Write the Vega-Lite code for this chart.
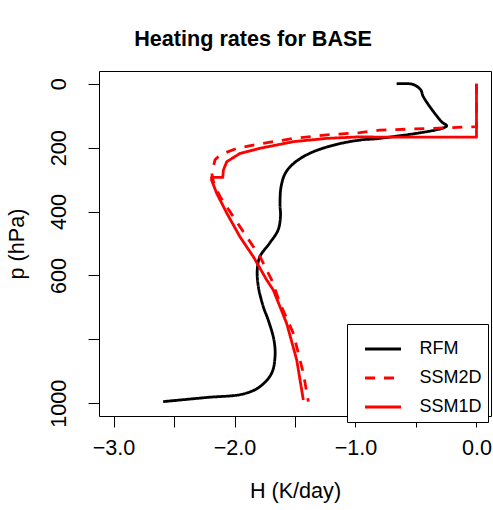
{
  "$schema": "https://vega.github.io/schema/vega-lite/v6.json",
  "width": 392,
  "height": 345,
  "autosize": {"type": "none"},
  "padding": {"left": 99, "top": 71, "right": 2, "bottom": 94},
  "background": "white",
  "title": {
    "text": "Heating rates for BASE",
    "font": "Liberation Sans",
    "fontSize": 21.6,
    "fontWeight": "bold",
    "color": "black",
    "anchor": "middle",
    "dx": -42,
    "offset": 20
  },
  "config": {
    "view": {"stroke": "black", "strokeWidth": 1},
    "axis": {
      "labelFont": "Liberation Sans",
      "titleFont": "Liberation Sans",
      "labelFontSize": 21.6,
      "titleFontSize": 21.6,
      "titleFontWeight": "normal",
      "labelColor": "black",
      "titleColor": "black",
      "tickColor": "black",
      "tickSize": 11,
      "domain": false,
      "grid": false
    },
    "legend": {
      "labelFont": "Liberation Sans",
      "labelFontSize": 18,
      "labelColor": "black"
    }
  },
  "data": {
    "values": [
      {"series": "RFM", "i": 1, "H": -0.66, "p": 0},
      {"series": "RFM", "i": 2, "H": -0.525, "p": 2},
      {"series": "RFM", "i": 3, "H": -0.461, "p": 19},
      {"series": "RFM", "i": 4, "H": -0.44, "p": 40},
      {"series": "RFM", "i": 5, "H": -0.288, "p": 119},
      {"series": "RFM", "i": 6, "H": -0.246, "p": 132},
      {"series": "RFM", "i": 7, "H": -0.8, "p": 171},
      {"series": "RFM", "i": 8, "H": -0.96, "p": 176},
      {"series": "RFM", "i": 9, "H": -1.18, "p": 192},
      {"series": "RFM", "i": 10, "H": -1.38, "p": 218},
      {"series": "RFM", "i": 11, "H": -1.51, "p": 249},
      {"series": "RFM", "i": 12, "H": -1.58, "p": 280},
      {"series": "RFM", "i": 13, "H": -1.615, "p": 322},
      {"series": "RFM", "i": 14, "H": -1.624, "p": 374},
      {"series": "RFM", "i": 15, "H": -1.62, "p": 416},
      {"series": "RFM", "i": 16, "H": -1.64, "p": 458},
      {"series": "RFM", "i": 17, "H": -1.71, "p": 499},
      {"series": "RFM", "i": 18, "H": -1.79, "p": 541},
      {"series": "RFM", "i": 19, "H": -1.812, "p": 583},
      {"series": "RFM", "i": 20, "H": -1.803, "p": 635},
      {"series": "RFM", "i": 21, "H": -1.762, "p": 698},
      {"series": "RFM", "i": 22, "H": -1.721, "p": 740},
      {"series": "RFM", "i": 23, "H": -1.674, "p": 802},
      {"series": "RFM", "i": 24, "H": -1.665, "p": 854},
      {"series": "RFM", "i": 25, "H": -1.693, "p": 906},
      {"series": "RFM", "i": 26, "H": -1.789, "p": 948},
      {"series": "RFM", "i": 27, "H": -1.927, "p": 971},
      {"series": "RFM", "i": 28, "H": -2.23, "p": 982},
      {"series": "RFM", "i": 29, "H": -2.59, "p": 995},

      {"series": "SSM2D", "i": 1, "H": 0, "p": 0},
      {"series": "SSM2D", "i": 2, "H": 0, "p": 134},
      {"series": "SSM2D", "i": 3, "H": -0.25, "p": 138},
      {"series": "SSM2D", "i": 4, "H": -0.8, "p": 145},
      {"series": "SSM2D", "i": 5, "H": -0.963, "p": 153},
      {"series": "SSM2D", "i": 6, "H": -1.238, "p": 160},
      {"series": "SSM2D", "i": 7, "H": -1.514, "p": 171},
      {"series": "SSM2D", "i": 8, "H": -1.789, "p": 188},
      {"series": "SSM2D", "i": 9, "H": -1.982, "p": 202},
      {"series": "SSM2D", "i": 10, "H": -2.12, "p": 223},
      {"series": "SSM2D", "i": 11, "H": -2.161, "p": 238},
      {"series": "SSM2D", "i": 12, "H": -2.188, "p": 280},
      {"series": "SSM2D", "i": 13, "H": -2.175, "p": 306},
      {"series": "SSM2D", "i": 14, "H": -2.12, "p": 353},
      {"series": "SSM2D", "i": 15, "H": -2.01, "p": 416},
      {"series": "SSM2D", "i": 16, "H": -1.899, "p": 479},
      {"series": "SSM2D", "i": 17, "H": -1.789, "p": 541},
      {"series": "SSM2D", "i": 18, "H": -1.693, "p": 614},
      {"series": "SSM2D", "i": 19, "H": -1.624, "p": 687},
      {"series": "SSM2D", "i": 20, "H": -1.514, "p": 781},
      {"series": "SSM2D", "i": 21, "H": -1.431, "p": 906},
      {"series": "SSM2D", "i": 22, "H": -1.39, "p": 995},

      {"series": "SSM1D", "i": 1, "H": 0, "p": 0},
      {"series": "SSM1D", "i": 2, "H": 0, "p": 167},
      {"series": "SSM1D", "i": 3, "H": -0.8, "p": 167},
      {"series": "SSM1D", "i": 4, "H": -0.96, "p": 166},
      {"series": "SSM1D", "i": 5, "H": -1.24, "p": 171},
      {"series": "SSM1D", "i": 6, "H": -1.51, "p": 181},
      {"series": "SSM1D", "i": 7, "H": -1.79, "p": 202},
      {"series": "SSM1D", "i": 8, "H": -1.955, "p": 218},
      {"series": "SSM1D", "i": 9, "H": -2.064, "p": 244},
      {"series": "SSM1D", "i": 10, "H": -2.092, "p": 270},
      {"series": "SSM1D", "i": 11, "H": -2.097, "p": 293},
      {"series": "SSM1D", "i": 12, "H": -2.19, "p": 293},
      {"series": "SSM1D", "i": 13, "H": -2.19, "p": 301},
      {"series": "SSM1D", "i": 14, "H": -2.147, "p": 343},
      {"series": "SSM1D", "i": 15, "H": -2.064, "p": 405},
      {"series": "SSM1D", "i": 16, "H": -1.955, "p": 479},
      {"series": "SSM1D", "i": 17, "H": -1.845, "p": 541},
      {"series": "SSM1D", "i": 18, "H": -1.734, "p": 614},
      {"series": "SSM1D", "i": 19, "H": -1.679, "p": 646},
      {"series": "SSM1D", "i": 20, "H": -1.569, "p": 750},
      {"series": "SSM1D", "i": 21, "H": -1.486, "p": 864},
      {"series": "SSM1D", "i": 22, "H": -1.431, "p": 990}
    ]
  },
  "encoding": {
    "x": {
      "field": "H",
      "type": "quantitative",
      "scale": {"domain": [-3.12, 0.12], "nice": false, "zero": false},
      "axis": {
        "title": "H (K/day)",
        "values": [-3, -2.5, -2, -1.5, -1, -0.5, 0],
        "format": ".1f",
        "labelExpr": "datum.value % 1 == 0 ? datum.label : ''",
        "labelPadding": 10,
        "titlePadding": 22,
        "labelFlush": false
      }
    },
    "y": {
      "field": "p",
      "type": "quantitative",
      "scale": {"domain": [-40, 1040], "reverse": true, "nice": false, "zero": false},
      "axis": {
        "title": "p (hPa)",
        "values": [0, 200, 400, 600, 800, 1000],
        "format": "d",
        "labelExpr": "datum.value == 800 ? '' : datum.label",
        "labelAngle": 270,
        "labelAlign": "center",
        "labelBaseline": "alphabetic",
        "labelPadding": 23,
        "titlePadding": 20,
        "labelFlush": false
      }
    },
    "order": {"field": "i", "type": "quantitative"},
    "color": {
      "field": "series",
      "type": "nominal",
      "scale": {"domain": ["RFM", "SSM2D", "SSM1D"], "range": ["#000000", "#FF0000", "#FF0000"]},
      "legend": {
        "title": null,
        "orient": "none",
        "legendX": 248,
        "legendY": 253,
        "fillColor": "white",
        "strokeColor": "black",
        "padding": 5.5,
        "symbolType": "stroke",
        "symbolSize": 1296,
        "symbolStrokeWidth": 2.8,
        "symbolOffset": 11,
        "labelOffset": 17,
        "rowPadding": -13.5,
        "labelExpr": "datum.label + ' '"
      }
    },
    "strokeDash": {
      "field": "series",
      "type": "nominal",
      "scale": {"domain": ["RFM", "SSM2D", "SSM1D"], "range": [[1, 0], [10, 9], [1, 0]]},
      "legend": {
        "title": null,
        "orient": "none",
        "legendX": 248,
        "legendY": 253,
        "fillColor": "white",
        "strokeColor": "black",
        "padding": 5.5,
        "symbolType": "stroke",
        "symbolSize": 1296,
        "symbolStrokeWidth": 2.8,
        "symbolOffset": 11,
        "labelOffset": 17,
        "rowPadding": -13.5,
        "labelExpr": "datum.label + ' '"
      }
    }
  },
  "layer": [
    {
      "transform": [{"filter": "datum.series == 'RFM'"}],
      "mark": {"type": "line", "strokeWidth": 2.8, "strokeCap": "butt", "strokeJoin": "round", "interpolate": "catmull-rom"}
    },
    {
      "transform": [{"filter": "datum.series != 'RFM'"}],
      "mark": {"type": "line", "strokeWidth": 2.8, "strokeCap": "butt", "strokeJoin": "round"}
    }
  ]
}
